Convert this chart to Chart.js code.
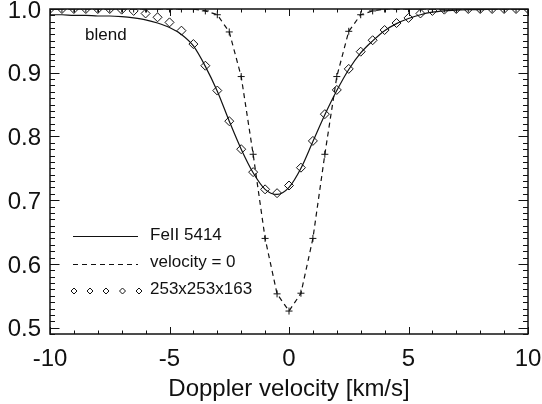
<!DOCTYPE html>
<html>
<head>
<meta charset="utf-8">
<script src="https://cdn.jsdelivr.net/npm/chart.js@4.4.0/dist/chart.umd.min.js"></script>
<style>
  html, body { margin: 0; padding: 0; background: #fff; }
  #wrap { width: 542px; height: 404px; }
</style>
</head>
<body>
<div id="wrap"><canvas id="chart" width="542" height="404"></canvas></div>
<script>
// Doppler velocity grid (km/s)
const velocity = [
  -10, -9.5, -9, -8.5, -8, -7.5, -7, -6.5, -6, -5.5, -5, -4.5, -4, -3.5, -3, -2.5, -2, -1.5, -1, -0.5,
  0, 0.5, 1, 1.5, 2, 2.5, 3, 3.5, 4, 4.5, 5, 5.5, 6, 6.5, 7, 7.5, 8, 8.5, 9, 9.5, 10
];

// solid line: FeII 5414 (with blend on the blue side)
const feII = [
  0.991, 0.991, 0.990, 0.990, 0.989, 0.989, 0.988, 0.986, 0.983, 0.978, 0.971, 0.960, 0.942, 0.910, 0.871, 0.824, 0.780, 0.743, 0.717, 0.709,
  0.720, 0.750, 0.792, 0.834, 0.872, 0.905, 0.931, 0.950, 0.966, 0.977, 0.985, 0.991, 0.995, 0.997, 0.998, 0.999, 0.999, 1.0, 1.0, 1.0, 1.0
];

// dashed line with + : velocity = 0
const velocityZero = [
  1.0, 1.0, 1.0, 1.0, 1.0, 1.0, 1.0, 1.0, 1.0, 1.0, 1.0, 1.0, 1.0, 0.997, 0.991, 0.964, 0.894, 0.772, 0.640, 0.553,
  0.526, 0.554, 0.640, 0.772, 0.894, 0.965, 0.991, 0.997, 1.0, 1.0, 1.0, 1.0, 1.0, 1.0, 1.0, 1.0, 1.0, 1.0, 1.0, 1.0, 1.0
];

// diamonds: 253x253x163 simulation
const cube = [
  1.0, 1.0, 1.0, 1.0, 1.0, 1.0, 0.999, 0.997, 0.993, 0.987, 0.979, 0.966, 0.945, 0.911, 0.872, 0.824, 0.780, 0.744, 0.717, 0.711,
  0.723, 0.751, 0.793, 0.835, 0.873, 0.906, 0.933, 0.951, 0.967, 0.978, 0.986, 0.993, 0.997, 0.999, 1.0, 1.0, 1.0, 1.0, 1.0, 1.0, 1.0
];

const xTicks = [-10, -5, 0, 5, 10];
const yTicks = [0.5, 0.6, 0.7, 0.8, 0.9, 1.0];
const legendLabels = ['FeII 5414', 'velocity = 0', '253x253x163'];
const blendLabel = 'blend';
const xTitle = 'Doppler velocity [km/s]';

const FONT = '"Liberation Sans", Arial, Helvetica, sans-serif';
const INK = '#111';

const toPoints = (ys) => velocity.map((v, i) => ({ x: v, y: ys[i] }));

// box + inward major/minor ticks on all four sides
const frameTicks = {
  id: 'frameTicks',
  afterDraw(chart) {
    const { ctx, chartArea: a, scales } = chart;
    const xs = scales.x;
    const ys = scales.y;
    ctx.save();
    ctx.strokeStyle = INK;
    ctx.lineWidth = 1;
    ctx.beginPath();
    for (let v = -10; v <= 10; v += 1) {
      const px = Math.round(xs.getPixelForValue(v)) + 0.5;
      const len = v % 5 === 0 ? 7 : 3.5;
      ctx.moveTo(px, a.bottom);
      ctx.lineTo(px, a.bottom - len);
      ctx.moveTo(px, a.top);
      ctx.lineTo(px, a.top + len);
    }
    for (let k = 49; k <= 100; k++) {
      const py = Math.round(ys.getPixelForValue(k / 100)) + 0.5;
      const len = k % 10 === 0 ? 9.5 : 5;
      ctx.moveTo(a.left, py);
      ctx.lineTo(a.left + len, py);
      ctx.moveTo(a.right, py);
      ctx.lineTo(a.right - len, py);
    }
    ctx.stroke();
    ctx.lineWidth = 1.5;
    ctx.strokeRect(a.left, a.top, a.right - a.left, a.bottom - a.top);
    ctx.restore();
  },
};

// legend inside the plot, lower left, plus the "blend" note
const legendBox = {
  id: 'legendBox',
  afterDraw(chart) {
    const { ctx } = chart;
    ctx.save();
    ctx.font = '17px ' + FONT;
    ctx.fillStyle = INK;
    ctx.strokeStyle = INK;
    ctx.textBaseline = 'alphabetic';
    ctx.textAlign = 'left';

    ctx.lineWidth = 1.2;
    ctx.beginPath();
    ctx.moveTo(73, 236.5);
    ctx.lineTo(138, 236.5);
    ctx.stroke();
    ctx.fillText(legendLabels[0], 150, 240);

    ctx.setLineDash([5, 4]);
    ctx.beginPath();
    ctx.moveTo(73, 264.5);
    ctx.lineTo(138, 264.5);
    ctx.stroke();
    ctx.setLineDash([]);
    ctx.fillText(legendLabels[1], 150, 267);

    ctx.lineWidth = 1;
    [74, 90, 106, 122.5, 139].forEach((cx) => {
      ctx.beginPath();
      ctx.moveTo(cx, 288);
      ctx.lineTo(cx + 3, 291);
      ctx.lineTo(cx, 294);
      ctx.lineTo(cx - 3, 291);
      ctx.closePath();
      ctx.stroke();
    });
    ctx.fillText(legendLabels[2], 150, 294);

    ctx.fillText(blendLabel, 85, 40);
    ctx.restore();
  },
};

new Chart(document.getElementById('chart'), {
  type: 'line',
  data: {
    datasets: [
      {
        label: legendLabels[0],
        data: toPoints(feII),
        borderColor: INK,
        borderWidth: 1.2,
        pointRadius: 0,
        cubicInterpolationMode: 'monotone',
        clip: 0,
      },
      {
        label: legendLabels[1],
        data: toPoints(velocityZero),
        borderColor: INK,
        borderWidth: 1.2,
        borderDash: [5, 4],
        tension: 0,
        pointStyle: 'cross',
        pointRadius: 3.5,
        pointBorderWidth: 1,
        pointBorderColor: INK,
        clip: 0,
      },
      {
        label: legendLabels[2],
        data: toPoints(cube),
        showLine: false,
        pointStyle: 'rectRot',
        pointRadius: 4.5,
        pointBorderWidth: 1,
        pointBorderColor: INK,
        pointBackgroundColor: 'rgba(0,0,0,0)',
        clip: 0,
      },
    ],
  },
  options: {
    responsive: false,
    animation: false,
    devicePixelRatio: 1,
    layout: { padding: { left: 0, right: 14, top: 9, bottom: 0 } },
    plugins: {
      legend: { display: false },
      tooltip: { enabled: false },
    },
    scales: {
      x: {
        type: 'linear',
        min: -10,
        max: 10,
        afterBuildTicks: (scale) => {
          scale.ticks = xTicks.map((v) => ({ value: v }));
        },
        afterFit: (scale) => {
          scale.height = 70;
          scale.paddingLeft = 0;
          scale.paddingRight = 0;
        },
        grid: { display: false, drawTicks: false },
        border: { display: false },
        ticks: {
          padding: 11,
          color: INK,
          font: { family: FONT, size: 24 },
          maxRotation: 0,
          callback: (v) => String(v),
        },
        title: {
          display: true,
          text: xTitle,
          color: INK,
          font: { family: FONT, size: 24 },
          padding: { top: 0, bottom: 0 },
        },
      },
      y: {
        type: 'linear',
        min: 0.49,
        max: 1.0,
        afterBuildTicks: (scale) => {
          scale.ticks = yTicks.map((v) => ({ value: v }));
        },
        afterFit: (scale) => {
          scale.width = 50;
          scale.paddingTop = 0;
          scale.paddingBottom = 0;
        },
        grid: { display: false, drawTicks: false },
        border: { display: false },
        ticks: {
          padding: 9,
          labelOffset: 2,
          color: INK,
          font: { family: FONT, size: 24 },
          callback: (v) => v.toFixed(1),
        },
      },
    },
  },
  plugins: [frameTicks, legendBox],
});
</script>
</body>
</html>
